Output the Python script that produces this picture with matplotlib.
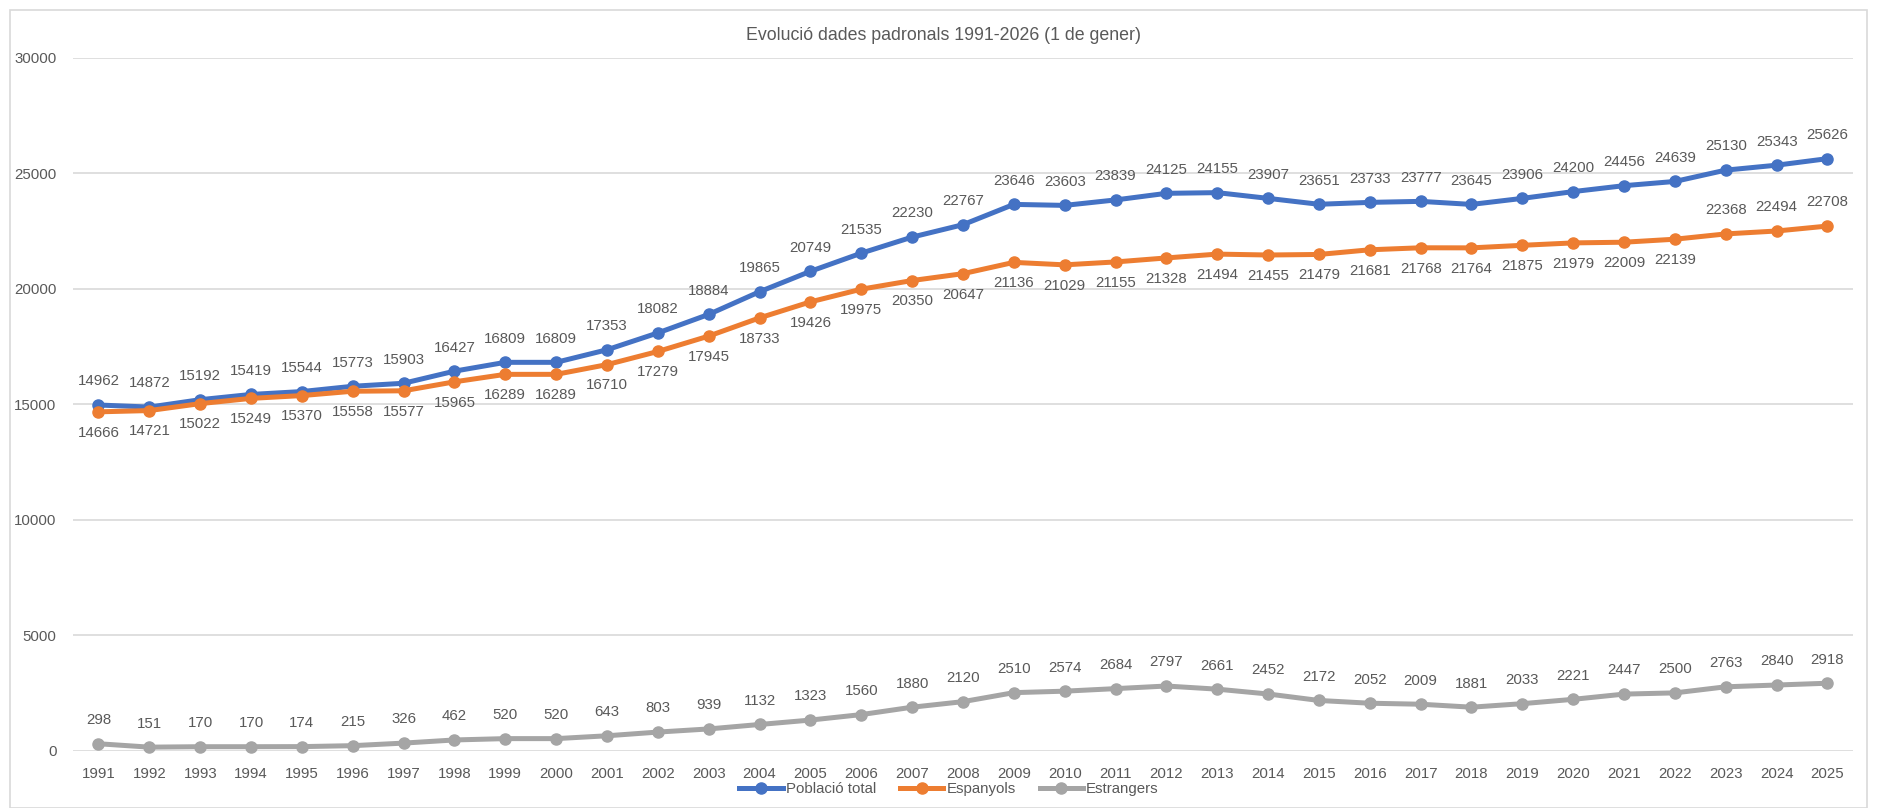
import matplotlib
matplotlib.use("Agg")
import matplotlib.pyplot as plt
from matplotlib.patches import Rectangle

plt.rcParams['font.family'] = ['Liberation Sans', 'DejaVu Sans']

anys = [str(a) for a in range(1991, 2026)]

poblacio_total = [14962, 14872, 15192, 15419, 15544, 15773, 15903, 16427, 16809, 16809,
                  17353, 18082, 18884, 19865, 20749, 21535, 22230, 22767, 23646, 23603,
                  23839, 24125, 24155, 23907, 23651, 23733, 23777, 23645, 23906, 24200,
                  24456, 24639, 25130, 25343, 25626]
espanyols = [14666, 14721, 15022, 15249, 15370, 15558, 15577, 15965, 16289, 16289,
             16710, 17279, 17945, 18733, 19426, 19975, 20350, 20647, 21136, 21029,
             21155, 21328, 21494, 21455, 21479, 21681, 21768, 21764, 21875, 21979,
             22009, 22139, 22368, 22494, 22708]
estrangers = [298, 151, 170, 170, 174, 215, 326, 462, 520, 520,
              643, 803, 939, 1132, 1323, 1560, 1880, 2120, 2510, 2574,
              2684, 2797, 2661, 2452, 2172, 2052, 2009, 1881, 2033, 2221,
              2447, 2500, 2763, 2840, 2918]

text_color = '#595959'
blau = '#4472C4'
taronja = '#ED7D31'
gris = '#A5A5A5'
mida = 10.8

fig = plt.figure(figsize=(18.83, 8.08), dpi=100)
ax = fig.add_axes([0.0388, 0.071, 0.9452, 0.8577])

# marc del grafic
fig.patches.append(Rectangle((10 / 1883, 0), 1857 / 1883, 1 - 10 / 808, transform=fig.transFigure,
                             fill=False, edgecolor='#D9D9D9', linewidth=1.2))

x = list(range(len(anys)))
series = [("Població total", poblacio_total, blau),
          ("Espanyols", espanyols, taronja),
          ("Estrangers", estrangers, gris)]
for nom, valors, color in series:
    ax.plot(x, valors, color=color, linewidth=3.6, marker='o', markersize=8,
            label=nom, clip_on=False, zorder=3)

# etiquetes de dades
for i, v in enumerate(poblacio_total):
    ax.annotate(str(v), (i, v), textcoords='offset points', xytext=(0, 17),
                ha='center', va='center', fontsize=mida, color=text_color)
for i, v in enumerate(espanyols):
    dy = 17 if i >= 32 else -15
    ax.annotate(str(v), (i, v), textcoords='offset points', xytext=(0, dy),
                ha='center', va='center', fontsize=mida, color=text_color)
for i, v in enumerate(estrangers):
    ax.annotate(str(v), (i, v), textcoords='offset points', xytext=(0, 17),
                ha='center', va='center', fontsize=mida, color=text_color)

ax.set_xlim(-0.5, len(anys) - 0.5)
ax.set_ylim(0, 30000)
ax.set_yticks(range(0, 30001, 5000))
ax.set_xticks(x)
ax.set_xticklabels(anys)
ax.tick_params(axis='both', length=0, labelsize=mida, labelcolor=text_color)
ax.tick_params(axis='x', pad=12)
ax.tick_params(axis='y', pad=12)
ax.grid(axis='y', color='#D9D9D9', linewidth=1.2)
ax.set_axisbelow(True)
for s in ax.spines.values():
    s.set_visible(False)

fig.text(0.501, 1 - 36 / 808, "Evolució dades padronals 1991-2026 (1 de gener)",
         ha='center', va='center', fontsize=12.8, color=text_color)

fig.legend(loc='center', bbox_to_anchor=(0.504, 1 - 789 / 808), ncol=3, frameon=False,
           fontsize=mida, labelcolor=text_color, handlelength=2.9, handletextpad=0.2,
           columnspacing=1.6, borderpad=0)

fig.savefig('out.png', dpi=100)
